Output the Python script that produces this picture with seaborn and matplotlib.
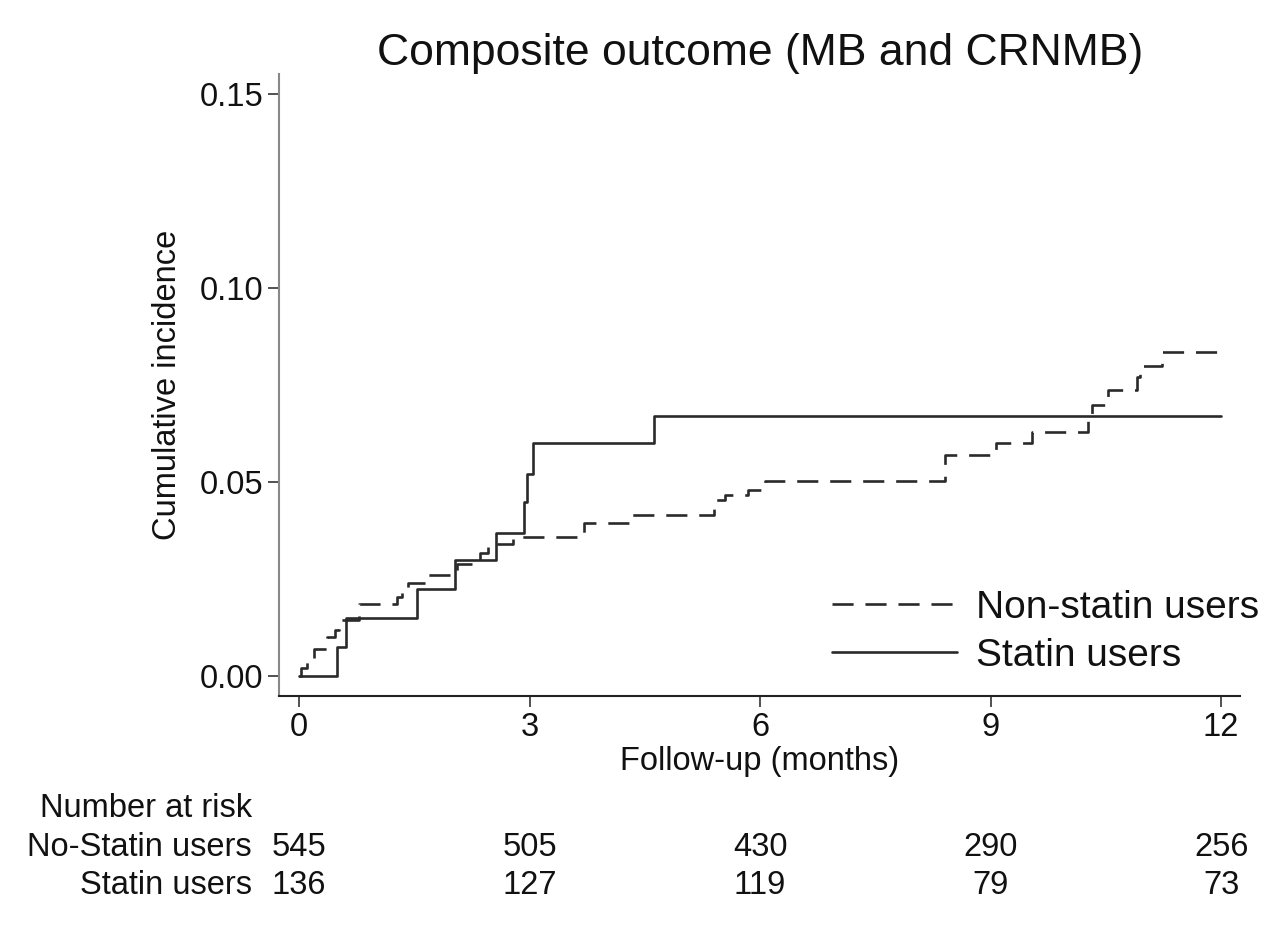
import numpy as np
import pandas as pd
import seaborn as sns
import matplotlib.pyplot as plt

# Curvas de incidência acumulada
statin_t = [0, 0.49, 0.61, 1.54, 2.03, 2.56, 2.93, 2.97, 3.04, 4.62, 12]
statin_y = [0, 0.0075, 0.015, 0.0225, 0.030, 0.037, 0.045, 0.052, 0.060, 0.067, 0.067]

nonstatin_t = [0, 0.03, 0.1, 0.2, 0.36, 0.47, 0.52, 0.78, 1.27, 1.34, 1.42, 1.68, 2.05,
               2.36, 2.46, 2.57, 2.79, 3.71, 4.31, 5.40, 5.54, 5.84, 6.07, 8.41, 9.07,
               9.54, 10.27, 10.32, 10.53, 10.9, 10.95, 11.23, 11.97, 12]
nonstatin_y = [0, 0.002, 0.004, 0.007, 0.010, 0.012, 0.0145, 0.0185, 0.0205, 0.0225, 0.024,
               0.026, 0.029, 0.0317, 0.0333, 0.034, 0.0358, 0.0395, 0.0415, 0.0454, 0.0467,
               0.048, 0.0503, 0.057, 0.060, 0.063, 0.067, 0.070, 0.0738, 0.077, 0.080,
               0.0836, 0.0852, 0.0852]

# Número em risco
risk_times = [0, 3, 6, 9, 12]
risk_nonstatin = [545, 505, 430, 290, 256]
risk_statin = [136, 127, 119, 79, 73]

groups = ["Non-statin users", "Statin users"]

df = pd.concat([
    pd.DataFrame({"t": nonstatin_t, "y": nonstatin_y, "grupo": groups[0]}),
    pd.DataFrame({"t": statin_t, "y": statin_y, "grupo": groups[1]}),
])

sns.set_style("ticks")
plt.rcParams['font.family'] = ['Liberation Sans', 'DejaVu Sans']

fs = 23.5
fig = plt.figure(figsize=(12.8, 9.46), dpi=100)
ax = fig.add_axes([0.218, 0.264, 0.751, 0.658])

sns.lineplot(data=df, x="t", y="y", style="grupo", hue="grupo",
             palette={groups[0]: "#2a2a2a", groups[1]: "#2a2a2a"},
             dashes={groups[0]: (8, 4.5), groups[1]: ""},
             estimator=None, sort=False, drawstyle="steps-post",
             linewidth=1.9, ax=ax)

ax.set_xlim(-0.26, 12.25)
ax.set_ylim(-0.0052, 0.1553)
ax.set_xticks([0, 3, 6, 9, 12])
ax.set_yticks([0, 0.05, 0.10, 0.15])
ax.set_yticklabels(["0.00", "0.05", "0.10", "0.15"])
ax.tick_params(labelsize=fs, length=8, width=1.2, color="#333333", labelcolor="#111111")
for s in ["top", "right"]:
    ax.spines[s].set_visible(False)
ax.spines["left"].set_color("#888888")
ax.spines["bottom"].set_color("#222222")
ax.spines["left"].set_linewidth(1.5)
ax.spines["bottom"].set_linewidth(1.5)

ax.set_xlabel("Follow-up (months)", fontsize=fs, labelpad=2, color="#111111")
ax.set_ylabel("Cumulative incidence", fontsize=fs, labelpad=12, color="#111111")
ax.set_title("Composite outcome (MB and CRNMB)", fontsize=32, pad=6, color="#111111")

leg = ax.legend(loc="lower right", frameon=False, fontsize=28, handlelength=3.2,
                handletextpad=0.5, labelspacing=0.3, bbox_to_anchor=(1.056, -0.02))
for txt in leg.get_texts():
    txt.set_color("#111111")

# Tabela de número em risco
tr = ax.get_xaxis_transform()
fig.text(252 / 1280, 1 - 808 / 946, "Number at risk", fontsize=fs, ha="right", va="center", color="#111111")
fig.text(252 / 1280, 1 - 847 / 946, "No-Statin users", fontsize=fs, ha="right", va="center", color="#111111")
fig.text(252 / 1280, 1 - 885 / 946, "Statin users", fontsize=fs, ha="right", va="center", color="#111111")
y1 = -(847 - 696) / (696 - 74)
y2 = -(885 - 696) / (696 - 74)
for t, a, b in zip(risk_times, risk_nonstatin, risk_statin):
    ax.text(t, y1, str(a), transform=tr, fontsize=fs, ha="center", va="center", clip_on=False, color="#111111")
    ax.text(t, y2, str(b), transform=tr, fontsize=fs, ha="center", va="center", clip_on=False, color="#111111")

fig.savefig("out.png", dpi=100)
